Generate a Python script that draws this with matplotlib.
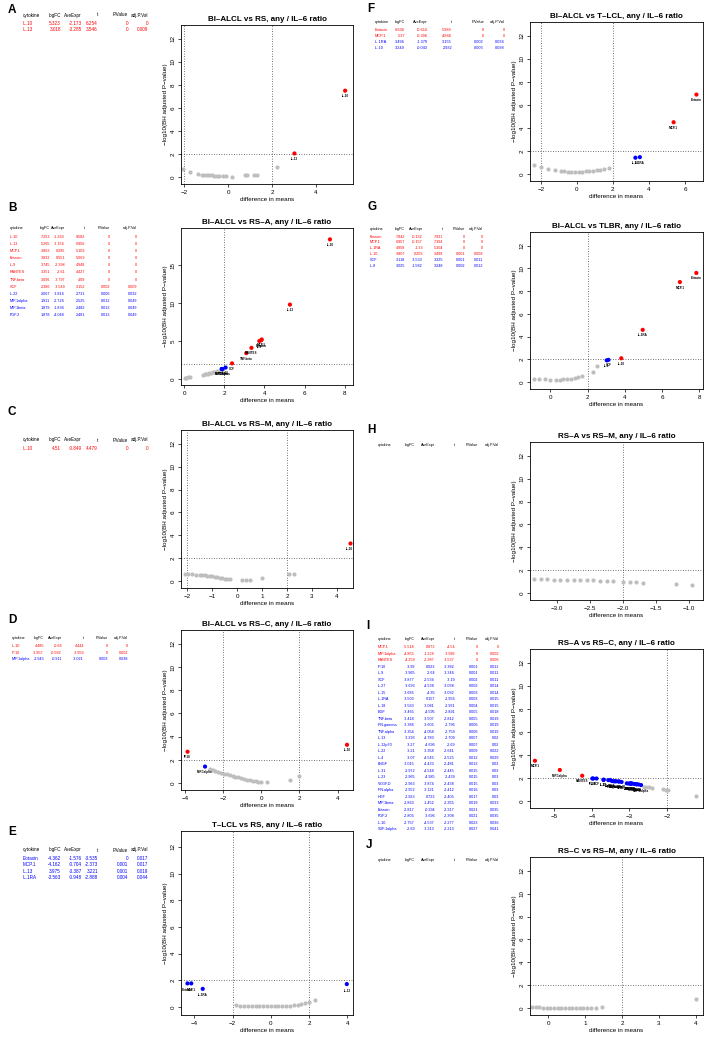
import matplotlib
matplotlib.use("Agg")
import matplotlib.pyplot as plt

W, H = 708, 1039
plt.rcParams["font.family"] = ["Liberation Sans", "DejaVu Sans"]

RED = "#FF0000"
BLUE = "#0000FF"
GRAY = "#BEBEBE"

HEAD = ["logFC", "AveExpr", "t", "P.Value", "adj.P.Val"]

# ---------------- panel data ----------------
# A  BI-ALCL vs RS
A_rows = [("IL.10", "5.323", "-2.173", "6.254", "0", "0"),
          ("IL.13", "3.018", "-3.285", "3.546", "0", "0.009")]
A_sig_y = [7.5, 2.05]
A_gray_x = [-2.06, -1.73, -1.35, -1.2, -1.09, -0.97, -0.85, -0.74, -0.64, -0.52,
            -0.39, -0.24, -0.09, 0.17, 0.75, 0.85, 1.18, 1.33, 2.21]
A_gray_y = [0.7, 0.45, 0.25, 0.2, 0.18, 0.17, 0.15, 0.14, 0.12, 0.1,
            0.1, 0.08, 0.06, 0.05, 0.15, 0.16, 0.2, 0.22, 0.9]

# B  BI-ALCL vs RS-A
B_rows = [("IL.10", "7.253", "-1.263", "9.582", "0", "0"),
          ("IL.13", "5.265", "-3.156", "6.956", "0", "0"),
          ("MCP.1", "3.863", "0.295", "5.103", "0", "0"),
          ("Eotaxin", "3.832", "0.551", "5.063", "0", "0"),
          ("IL.9", "3.745", "-2.398", "4.948", "0", "0"),
          ("RANTES", "3.351", "-2.61", "4.427", "0", "0"),
          ("TNF.beta", "3.096", "-3.797", "4.09", "0", "0"),
          ("SCF", "2.386", "-3.549", "3.152", "0.002", "0.009"),
          ("IL.22", "2.067", "-3.814", "2.731", "0.006", "0.032"),
          ("MIP.1alpha", "1.911", "-2.726", "2.525", "0.012", "0.049"),
          ("MIP.1beta", "1.879", "-1.836", "2.482", "0.013", "0.049"),
          ("FGF.2", "1.878", "-4.048", "2.481", "0.013", "0.049")]
B_sig_y = [18.4, 9.8, 5.2, 5.1, 5.0, 4.1, 3.4, 2.05, 1.5, 1.31, 1.31, 1.31]
B_gray_x = [0.05, 0.12, 0.2, 0.28, 0.95, 1.02, 1.1, 1.18, 1.26, 1.34, 1.42,
            1.5, 1.58, 1.66, 1.74, 1.82]
B_gray_y = [0.15, 0.18, 0.2, 0.25, 0.55, 0.6, 0.65, 0.7, 0.75, 0.8, 0.85,
            0.9, 0.95, 1.0, 1.05, 1.1]

# C  BI-ALCL vs RS-M
C_rows = [("IL.10", "4.51", "-0.849", "4.479", "0", "0")]
C_sig_y = [3.3]
C_gray_x = [-2.1, -1.95, -1.8, -1.65, -1.5, -1.4, -1.3, -1.2, -1.1, -1.0, -0.9,
            -0.8, -0.7, -0.6, -0.5, -0.4, -0.3, 0.2, 0.35, 0.5, 1.0, 2.1, 2.3]
C_gray_y = [0.65, 0.62, 0.6, 0.57, 0.55, 0.52, 0.5, 0.47, 0.45, 0.42, 0.38,
            0.35, 0.3, 0.27, 0.22, 0.18, 0.15, 0.1, 0.12, 0.12, 0.3, 0.6, 0.65]

# D  BI-ALCL vs RS-C
D_rows = [("IL.10", "4.485", "-0.66", "4.444", "0", "0"),
          ("IP.10", "-3.857", "-0.582", "-3.959", "0", "0.002"),
          ("MIP.1alpha", "-2.943", "-0.911", "-3.021", "0.003", "0.038")]
D_sig_y = [3.3, 2.7, 1.42]
D_gray_x = [-2.7, -2.55, -2.4, -2.25, -2.1, -1.95, -1.8, -1.65, -1.5, -1.35,
            -1.2, -1.05, -0.9, -0.75, -0.6, -0.45, -0.3, -0.15, 0.0, 0.3, 1.5, 2.0]
D_gray_y = [1.25, 1.15, 1.05, 0.97, 0.9, 0.82, 0.75, 0.68, 0.6, 0.54,
            0.48, 0.42, 0.36, 0.3, 0.25, 0.2, 0.16, 0.12, 0.1, 0.08, 0.3, 0.6]

# E  T-LCL vs RS
E_rows = [("Eotaxin", "-4.362", "-1.576", "-3.535", "0", "0.017"),
          ("MCP.1", "-4.162", "-0.704", "-2.373", "0.001", "0.017"),
          ("IL.13", "3.975", "-3.387", "3.221", "0.001", "0.019"),
          ("IL.1RA", "-3.563", "-0.948", "-2.888", "0.004", "0.044")]
E_sig_y = [1.77, 1.77, 1.72, 1.36]
E_gray_x = [-1.8, -1.6, -1.4, -1.2, -1.0, -0.8, -0.6, -0.4, -0.2, 0.0, 0.2,
            0.4, 0.6, 0.8, 1.0, 1.2, 1.4, 1.6, 1.8, 2.0, 2.3]
E_gray_y = [0.12, 0.1, 0.1, 0.1, 0.08, 0.08, 0.08, 0.07, 0.07, 0.06, 0.06,
            0.06, 0.07, 0.08, 0.1, 0.12, 0.15, 0.2, 0.3, 0.4, 0.55]

# F  BI-ALCL vs T-LCL
F_rows = [("Eotaxin", "6.636", "-0.616", "5.989", "0", "0"),
          ("MCP.1", "5.37", "-0.396", "4.846", "0", "0"),
          ("IL.1RA", "3.496", "-1.379", "3.155", "0.002", "0.034"),
          ("IL.10", "3.249", "-0.043", "2.932", "0.003", "0.038")]
F_sig_y = [6.9, 4.5, 1.47, 1.42]
F_gray_x = [-2.4, -2.0, -1.6, -1.2, -0.9, -0.7, -0.5, -0.3, -0.1, 0.1, 0.3,
            0.5, 0.7, 0.9, 1.1, 1.3, 1.5, 1.8]
F_gray_y = [0.8, 0.6, 0.45, 0.35, 0.3, 0.25, 0.22, 0.2, 0.2, 0.2, 0.22,
            0.25, 0.28, 0.3, 0.33, 0.37, 0.42, 0.5]

# G  BI-ALCL vs TLBR
G_rows = [("Eotaxin", "7.842", "-0.132", "7.931", "0", "0"),
          ("MCP.1", "6.957", "-0.157", "7.394", "0", "0"),
          ("IL.1RA", "4.958", "-1.33", "5.304", "0", "0"),
          ("IL.10", "3.807", "0.203", "3.499", "0.001", "0.008"),
          ("SCF", "3.118", "-3.533", "3.325", "0.001", "0.011"),
          ("IL.8", "3.025", "-1.582", "3.248", "0.002", "0.012")]
G_sig_y = [9.6, 8.8, 4.6, 2.1, 1.96, 1.92]
G_gray_x = [-0.9, -0.6, -0.3, 0.0, 0.3, 0.5, 0.7, 0.9, 1.1, 1.3, 1.5, 1.7,
            2.3, 2.5]
G_gray_y = [0.3, 0.28, 0.25, 0.2, 0.2, 0.22, 0.25, 0.28, 0.32, 0.36, 0.42,
            0.5, 0.9, 1.4]

# H  RS-A vs RS-M
H_rows = []
H_sig_y = []
H_gray_x = [-3.35, -3.25, -3.15, -3.05, -2.95, -2.85, -2.75, -2.65, -2.55,
            -2.45, -2.35, -2.25, -2.15, -2.0, -1.9, -1.8, -1.7, -1.2, -0.95]
H_gray_y = [1.2, 1.2, 1.2, 1.18, 1.18, 1.17, 1.16, 1.15, 1.14, 1.12, 1.1,
            1.08, 1.05, 1.0, 0.98, 0.95, 0.92, 0.8, 0.7]

# I  RS-A vs RS-C
I_rows = [("MCP.1", "-5.518", "0.873", "-4.54", "0", "0"),
          ("MIP.1alpha", "-4.855", "-1.226", "-3.996", "0", "0.002"),
          ("RANTES", "-4.259", "-2.387", "-3.537", "0", "0.006"),
          ("IP.10", "-3.99", "0.023", "-3.382", "0.001", "0.011"),
          ("IL.9", "-3.965", "-2.64", "-3.346", "0.001", "0.011"),
          ("SCF", "-3.877", "-2.534", "-3.19", "0.002", "0.011"),
          ("IL.27", "-3.693", "-4.538", "-3.038", "0.002", "0.014"),
          ("IL.15", "-3.685", "-4.35", "-3.032", "0.003", "0.014"),
          ("IL.1RA", "-3.503", "0.157", "-2.956", "0.003", "0.015"),
          ("IL.18", "-3.563", "-3.081", "-2.931", "0.004", "0.015"),
          ("EGF", "-3.465", "-4.595", "-2.891", "0.005", "0.018"),
          ("TNF.beta", "-3.418", "-3.507", "-2.812", "0.005", "0.019"),
          ("IFN.gamma", "-3.384", "-3.605", "-2.796", "0.006", "0.019"),
          ("TNF.alpha", "-3.354", "-4.058", "-2.759", "0.006", "0.019"),
          ("IL.13", "-3.293", "-4.783", "-2.709", "0.007", "0.02"),
          ("IL.12p70", "-3.27", "-4.696", "-2.69", "0.007", "0.02"),
          ("IL.22", "-3.21", "-3.358", "-2.641", "0.009", "0.022"),
          ("IL.4", "-3.07", "-4.545", "-2.525", "0.012", "0.029"),
          ("bNGF", "-3.015", "-4.433", "-2.481", "0.013", "0.03"),
          ("IL.31", "-2.972", "-4.548", "-2.445", "0.015", "0.03"),
          ("IL.23", "-2.965", "-4.985", "-2.439", "0.015", "0.03"),
          ("VEGF.D", "-2.963", "-3.874", "-2.438", "0.015", "0.03"),
          ("IFN.alpha", "-2.952", "-3.121", "-2.412", "0.016", "0.03"),
          ("HGF", "-2.923", "0.723", "-2.405", "0.017", "0.03"),
          ("MIP.1beta", "-2.863", "-1.452", "-2.355", "0.019", "0.033"),
          ("Eotaxin", "-2.817", "-0.394", "-2.317", "0.021", "0.035"),
          ("FGF.2", "-2.805", "-3.696", "-2.308", "0.021", "0.035"),
          ("IL.10", "-2.757", "-4.537", "-2.277", "0.023", "0.036"),
          ("SDF.1alpha", "-2.69", "-3.313", "-2.213", "0.027", "0.041")]
I_sig_y = [3.5, 2.7, 2.2, 1.96, 1.96, 1.96, 1.85, 1.85, 1.82, 1.82, 1.74,
           1.72, 1.72, 1.72, 1.7, 1.7, 1.66, 1.54, 1.52, 1.52, 1.52, 1.52,
           1.52, 1.52, 1.48, 1.46, 1.46, 1.44, 1.39]
I_gray_x = [-2.62, -2.55, -2.48, -2.4, -2.1, -2.02, -1.96, -1.23]
I_gray_y = [1.25, 1.22, 1.18, 1.15, 1.02, 0.98, 0.95, 0.45]

# J  RS-C vs RS-M
J_rows = []
J_sig_y = []
J_gray_x = [-0.45, -0.35, -0.25, -0.15, -0.05, 0.05, 0.15, 0.25, 0.35, 0.45,
            0.55, 0.65, 0.75, 0.85, 0.95, 1.05, 1.15, 1.3, 1.45, 4.0]
J_gray_y = [0.1, 0.08, 0.06, 0.05, 0.04, 0.04, 0.03, 0.03, 0.03, 0.03,
            0.03, 0.03, 0.03, 0.03, 0.03, 0.03, 0.04, 0.05, 0.06, 0.8]

TITLES = {
    "A": "BI\u2013ALCL vs RS, any / IL\u20136 ratio",
    "B": "BI\u2013ALCL vs RS\u2013A, any / IL\u20136 ratio",
    "C": "BI\u2013ALCL vs RS\u2013M, any / IL\u20136 ratio",
    "D": "BI\u2013ALCL vs RS\u2013C, any / IL\u20136 ratio",
    "E": "T\u2013LCL vs RS, any / IL\u20136 ratio",
    "F": "BI\u2013ALCL vs T\u2013LCL, any / IL\u20136 ratio",
    "G": "BI\u2013ALCL vs TLBR, any / IL\u20136 ratio",
    "H": "RS\u2013A vs RS\u2013M, any / IL\u20136 ratio",
    "I": "RS\u2013A vs RS\u2013C, any / IL\u20136 ratio",
    "J": "RS\u2013C vs RS\u2013M, any / IL\u20136 ratio",
}

# ---------------- layout (pixels) ----------------
YL = (-0.6, 13.2)
PANELS = {
    "A": dict(box=(181, 353, 25, 184), xlim=(-2.14, 5.68), ylim=YL,
              xt=[-2, 0, 2, 4], yt=range(0, 13, 2), v=[-2, 2]),
    "B": dict(box=(181, 353, 228, 385), xlim=(-0.15, 8.4), ylim=(-0.8, 19.9),
              xt=[0, 2, 4, 6, 8], yt=[0, 5, 10, 15], v=[2]),
    "C": dict(box=(181, 353, 430, 588), xlim=(-2.25, 4.65), ylim=YL,
              xt=[-2, -1, 0, 1, 2, 3, 4], yt=range(0, 13, 2), v=[-2, 2]),
    "D": dict(box=(181, 353, 630, 790), xlim=(-4.2, 4.8), ylim=YL,
              xt=[-4, -2, 0, 2, 4], yt=range(0, 13, 2), v=[-2, 2]),
    "E": dict(box=(181, 353, 831, 1015), xlim=(-4.7, 4.3), ylim=YL,
              xt=[-4, -2, 0, 2, 4], yt=range(0, 13, 2), v=[-2, 2]),
    "F": dict(box=(530, 703, 22, 181), xlim=(-2.6, 7.0), ylim=YL,
              xt=[-2, 0, 2, 4, 6], yt=range(0, 13, 2), v=[-2, 2]),
    "G": dict(box=(530, 703, 232, 389), xlim=(-1.1, 8.2), ylim=YL,
              xt=[0, 2, 4, 6, 8], yt=range(0, 13, 2), v=[2]),
    "H": dict(box=(530, 703, 442, 600), xlim=(-3.41, -0.79), ylim=YL,
              xt=[-3.0, -2.5, -2.0, -1.5, -1.0], yt=range(0, 13, 2), v=[-2]),
    "I": dict(box=(530, 703, 649, 808), xlim=(-5.65, -1.04), ylim=YL,
              xt=[-5, -4, -3, -2], yt=range(0, 13, 2), v=[-2]),
    "J": dict(box=(530, 703, 857, 1015), xlim=(-0.5, 4.2), ylim=YL,
              xt=[0, 1, 2, 3, 4], yt=range(0, 13, 2), v=[2]),
}

TABLES = {
    "A": dict(letter=(8, 10), x0=23, cols=[61, 82, 98, 128, 148], y=15, step=6.5, fs=3.3),
    "B": dict(letter=(8, 208), x0=10, cols=[50, 65, 85, 110, 137], y=228, step=7.06, fs=2.7),
    "C": dict(letter=(8, 412), x0=23, cols=[61, 82, 98, 128, 148], y=440, step=6.5, fs=3.3),
    "D": dict(letter=(8, 620), x0=12, cols=[44, 62, 84, 108, 128], y=638, step=6.5, fs=2.7),
    "E": dict(letter=(8, 832), x0=23, cols=[61, 82, 98, 128, 148], y=850, step=6.5, fs=3.3),
    "F": dict(letter=(367, 9), x0=375, cols=[405, 428, 452, 484, 505], y=22, step=6.0, fs=2.8),
    "G": dict(letter=(367, 207), x0=370, cols=[405, 423, 443, 465, 483], y=229, step=5.8, fs=2.7),
    "H": dict(letter=(367, 430), x0=378, cols=[415, 435, 455, 478, 499], y=445, step=6.5, fs=2.7),
    "I": dict(letter=(366, 626), x0=378, cols=[415, 435, 455, 478, 499], y=639, step=6.5, fs=2.7),
    "J": dict(letter=(366, 845), x0=378, cols=[415, 435, 455, 478, 499], y=860, step=6.5, fs=2.7),
}

DATA = {
    "A": (A_rows, A_sig_y, A_gray_x, A_gray_y),
    "B": (B_rows, B_sig_y, B_gray_x, B_gray_y),
    "C": (C_rows, C_sig_y, C_gray_x, C_gray_y),
    "D": (D_rows, D_sig_y, D_gray_x, D_gray_y),
    "E": (E_rows, E_sig_y, E_gray_x, E_gray_y),
    "F": (F_rows, F_sig_y, F_gray_x, F_gray_y),
    "G": (G_rows, G_sig_y, G_gray_x, G_gray_y),
    "H": (H_rows, H_sig_y, H_gray_x, H_gray_y),
    "I": (I_rows, I_sig_y, I_gray_x, I_gray_y),
    "J": (J_rows, J_sig_y, J_gray_x, J_gray_y),
}


def row_color(row):
    return RED if float(row[5]) < 0.01 else BLUE


def draw_table(fig, key, rows):
    t = TABLES[key]
    lx, ly = t["letter"]
    fig.text(lx / W, 1 - ly / H, key, fontsize=8.5, fontweight="bold",
             va="center", ha="left")
    fs = t["fs"]
    y = t["y"]
    fig.text(t["x0"] / W, 1 - y / H, "cytokine", fontsize=fs, va="center")
    for cx, h in zip(t["cols"], HEAD):
        fig.text(cx / W, 1 - y / H, h, fontsize=fs, va="center", ha="right")
    for i, row in enumerate(rows):
        yy = y + t["step"] * (i + 1.3)
        col = row_color(row)
        fig.text(t["x0"] / W, 1 - yy / H, row[0], fontsize=fs, va="center",
                 color=col)
        for cx, v in zip(t["cols"], row[1:]):
            fig.text(cx / W, 1 - yy / H, v, fontsize=fs, va="center",
                     ha="right", color=col)


def fmt(v, key):
    s = ("%.1f" % v) if key == "H" else ("%g" % v)
    return s.replace("-", "\u2212")


def draw_volcano(fig, key, rows, sig_y, gx, gy):
    p = PANELS[key]
    l, r, t, b = p["box"]
    ax = fig.add_axes([l / W, 1 - b / H, (r - l) / W, (b - t) / H])
    ax.set_xlim(*p["xlim"])
    ax.set_ylim(*p["ylim"])
    for v in p["v"]:
        ax.axvline(v, color="#444444", lw=0.6, ls=(0, (1, 2)), zorder=1)
    ax.axhline(2, color="#444444", lw=0.6, ls=(0, (1, 2)), zorder=1)
    ax.scatter(gx, gy, s=9, color=GRAY, linewidths=0, zorder=2)
    sx = [float(rw[1]) for rw in rows]
    cols = [row_color(rw) for rw in rows]
    ax.scatter(sx, sig_y, s=9, c=cols, linewidths=0, zorder=3)
    dy = (p["ylim"][1] - p["ylim"][0]) * 0.035
    for rw, x, y in zip(rows, sx, sig_y):
        ax.text(x, y - dy, rw[0], fontsize=2.2, ha="center", va="center",
                fontweight="bold", zorder=4)
    ax.set_xticks(p["xt"])
    ax.set_yticks(list(p["yt"]))
    ax.set_xticklabels([fmt(v, key) for v in p["xt"]])
    ax.set_yticklabels([str(v) for v in p["yt"]], rotation=90, va="center")
    ax.tick_params(labelsize=4.5, length=2.5, width=0.5, pad=1.5)
    for s in ax.spines.values():
        s.set_linewidth(0.6)
    ax.set_title(TITLES[key], fontsize=5.8, fontweight="bold", pad=3)
    ax.set_xlabel("difference in means", fontsize=4.5, labelpad=1.5)
    ax.set_ylabel("\u2212log10(BH adjusted P\u2212value)", fontsize=4.5,
                  labelpad=2)
    return ax


fig = plt.figure(figsize=(W / 100, H / 100), dpi=100)
fig.patch.set_facecolor("white")
for key in "ABCDEFGHIJ":
    rows, sig_y, gx, gy = DATA[key]
    draw_table(fig, key, rows)
    draw_volcano(fig, key, rows, sig_y, gx, gy)

fig.savefig("out.png", dpi=100, facecolor="white")
